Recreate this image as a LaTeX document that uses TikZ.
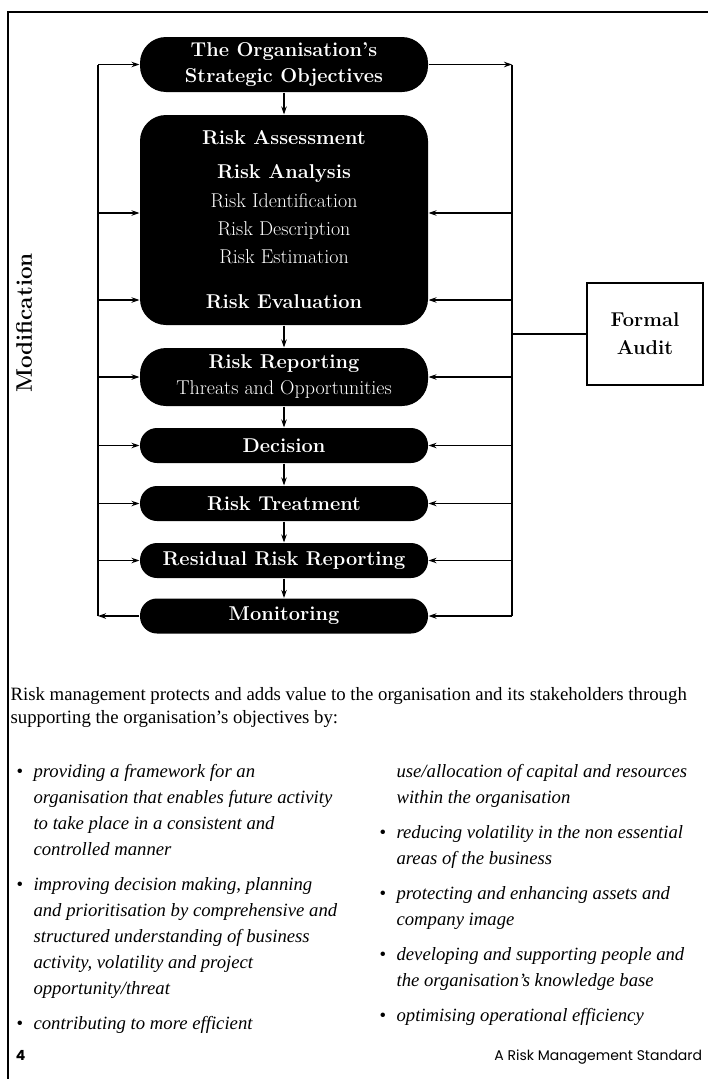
\documentclass[tikz,border=0pt]{standalone}
\usepackage{fontspec}
\newfontfamily\footerfont{Poppins}
\newfontfamily\bodyfont[Ligatures=TeX]{Liberation Serif}
\usepackage{tikz}
\usetikzlibrary{arrows.meta, positioning}

\newcommand{\bul}{\makebox[17pt][l]{\upshape\textbullet}}
\newcommand{\cont}{\hspace*{17pt}}

\begin{document}
\begin{tikzpicture}[
    x=1pt, y=-1pt,
    stage/.style={fill=black, text=white, rounded corners=17pt,
                  minimum width=288pt, minimum height=35pt, inner sep=0pt,
                  align=center, font=\fontsize{20}{26}\selectfont\bfseries},
    tallstage/.style={stage, rounded corners=26pt},
    auditbox/.style={draw, minimum width=116pt, minimum height=102pt,
                     align=center, font=\fontsize{20}{28}\selectfont\bfseries},
    bodytext/.style={anchor=north west, align=left, inner sep=0pt},
    line width=1.1pt,
    >={Stealth[length=8pt,width=5.5pt]}
  ]
  \useasboundingbox (0,0) rectangle (708,1079);

  % Page frame
  \draw (8,1079) -- (8,12) -- (708,12);

  % Process stages
  \node[tallstage, minimum height=55pt] (obj) at (284,64.5)
    {The Organisation's\\Strategic Objectives};
  \node[tallstage, minimum height=210pt] (assess) at (284,220)
    {Risk Assessment\\[8pt]
     Risk Analysis\\[3pt]
     {\mdseries Risk Identification}\\[2pt]
     {\mdseries Risk Description}\\[2pt]
     {\mdseries Risk Estimation}\\[19pt]
     Risk Evaluation};
  \node[tallstage, minimum height=58pt] (report) at (284,377)
    {Risk Reporting\\{\mdseries Threats and Opportunities}};
  \node[stage] (decide) at (284,445.5) {Decision};
  \node[stage] (treat) at (284,503.5) {Risk Treatment};
  \node[stage] (resid) at (284,560.5) {Residual Risk Reporting};
  \node[stage] (monitor) at (284,616) {Monitoring};

  % Audit box and side label
  \node[auditbox] (audit) at (645,334) {Formal\\Audit};
  \node[rotate=90, font=\fontsize{22.5}{24}\selectfont\bfseries] (modif)
    at (24,323) {Modification};

  % Rails
  \coordinate (Lrail) at (98,0);
  \coordinate (Rrail) at (512,0);
  \coordinate (analysis) at (284,213);
  \coordinate (evaluation) at (284,300);

  % Main flow
  \draw[->] (obj.south) -- (assess.north);
  \draw[->] (assess.south) -- (report.north);
  \draw[->] (report.south) -- (decide.north);
  \draw[->] (decide.south) -- (treat.north);
  \draw[->] (treat.south) -- (resid.north);
  \draw[->] (resid.south) -- (monitor.north);

  % Modification loop (left)
  \draw[->] (monitor.west) -- (Lrail |- monitor);
  \draw (Lrail |- monitor) -- (Lrail |- obj);
  \draw[->] (Lrail |- obj) -- (obj.west);
  \draw[->] (Lrail |- analysis) -- (assess.west |- analysis);
  \draw[->] (Lrail |- evaluation) -- (assess.west |- evaluation);
  \draw[->] (Lrail |- report) -- (report.west);
  \draw[->] (Lrail |- decide) -- (decide.west);
  \draw[->] (Lrail |- treat) -- (treat.west);
  \draw[->] (Lrail |- resid) -- (resid.west);

  % Audit loop (right)
  \draw[->] (obj.east) -- (Rrail |- obj);
  \draw (Rrail |- obj) -- (Rrail |- monitor);
  \draw[->] (Rrail |- analysis) -- (assess.east |- analysis);
  \draw[->] (Rrail |- evaluation) -- (assess.east |- evaluation);
  \draw[->] (Rrail |- report) -- (report.east);
  \draw[->] (Rrail |- decide) -- (decide.east);
  \draw[->] (Rrail |- treat) -- (treat.east);
  \draw[->] (Rrail |- resid) -- (resid.east);
  \draw[->] (Rrail |- monitor) -- (monitor.east);
  \draw (audit.west) -- (Rrail |- audit);

  % Text below
  \node[bodytext, font=\bodyfont\fontsize{18.8}{22.5}\selectfont] (intro) at (10,687)
    {Risk management protects and adds value to the organisation and its stakeholders through\\
     supporting the organisation's objectives by:};

  \node[bodytext, font=\bodyfont\fontsize{18.7}{26}\selectfont\itshape] (leftlist) at (16,764)
    {\bul providing a framework for an\\
     \cont organisation that enables future activity\\
     \cont to take place in a consistent and\\
     \cont controlled manner\\[9pt]
     \bul improving decision making, planning\\
     \cont and prioritisation by comprehensive and\\
     \cont structured understanding of business\\
     \cont activity, volatility and project\\
     \cont opportunity/threat\\[9pt]
     \bul contributing to more efficient};

  \node[bodytext, font=\bodyfont\fontsize{18.7}{26}\selectfont\itshape] (rightlist) at (379,764)
    {\cont use/allocation of capital and resources\\
     \cont within the organisation\\[9pt]
     \bul reducing volatility in the non essential\\
     \cont areas of the business\\[9pt]
     \bul protecting and enhancing assets and\\
     \cont company image\\[9pt]
     \bul developing and supporting people and\\
     \cont the organisation's knowledge base\\[9pt]
     \bul optimising operational efficiency};

  % Footer
  \node[anchor=base west, font=\footerfont\bfseries\fontsize{14}{16}\selectfont]
    (pagenum) at (12,1060) {4};
  \node[anchor=base east, font=\footerfont\fontsize{14}{16}\selectfont]
    (footer) at (706,1060) {A Risk Management Standard};
\end{tikzpicture}
\end{document}
